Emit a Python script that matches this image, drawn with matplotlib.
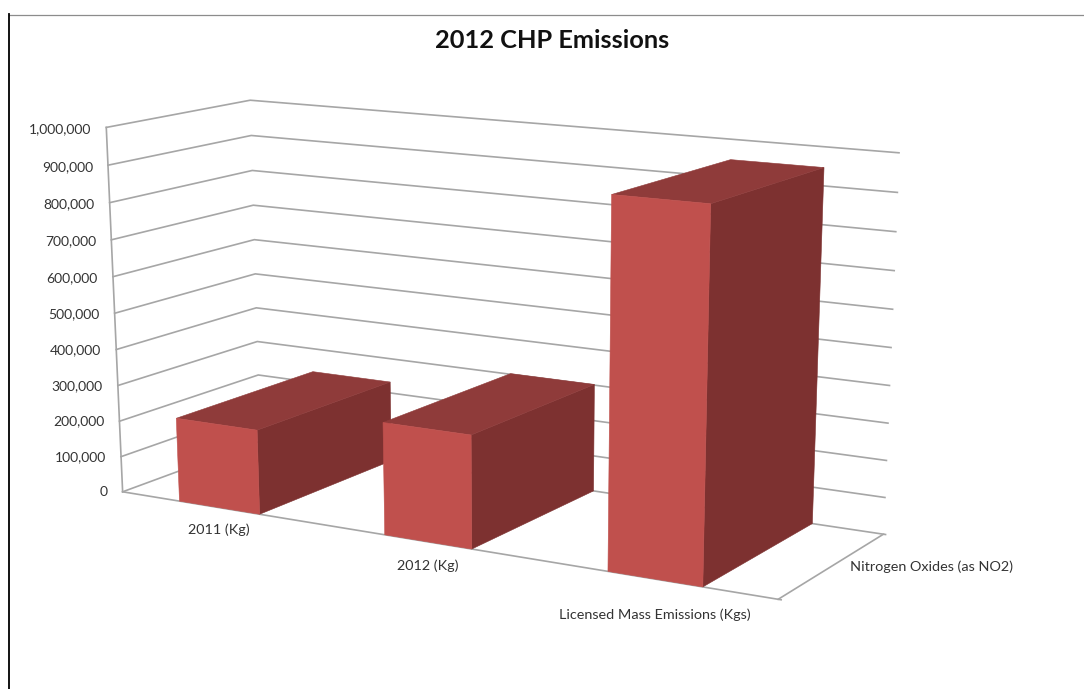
import numpy as np
import matplotlib
matplotlib.use("Agg")
import matplotlib.pyplot as plt

title = "2012 CHP Emissions"
categories = ["2011 (Kg)", "2012 (Kg)", "Licensed Mass Emissions (Kgs)"]
series_name = "Nitrogen Oxides (as NO2)"
values = [232000, 302000, 947000]
y_ticks = [0, 100000, 200000, 300000, 400000, 500000, 600000, 700000, 800000, 900000, 1000000]
y_max = 1000000

# Pixel positions of the corners of the chart's box: (x, depth, height) -> picture
box_corners = [
    ((0, 0, 0), (122.3, 490.0)),
    ((0, 0, 1), (106.5, 128.0)),
    ((0, 1, 0), (260.5, 443.0)),
    ((0, 1, 1), (250.0, 99.5)),
    ((1, 0, 0), (778.3, 600.7)),
    ((1, 1, 0), (883.3, 532.7)),
    ((1, 1, 1), (899.0, 153.0)),
]
label_drop = [22, 24, 35]


def fit_camera(corners):
    rows, rhs = [], []
    for (X, Y, Z), (u, v) in corners:
        rows.append([X, Y, Z, 1, 0, 0, 0, 0, -u * X, -u * Y, -u * Z])
        rhs.append(u)
        rows.append([0, 0, 0, 0, X, Y, Z, 1, -v * X, -v * Y, -v * Z])
        rhs.append(v)
    p = np.linalg.lstsq(np.array(rows, float), np.array(rhs, float), rcond=None)[0]
    return np.append(p, 1.0).reshape(3, 4)


CAM = fit_camera(box_corners)


def project(x, d, value):
    h = CAM @ np.array([x, d, value / y_max, 1.0])
    return h[0] / h[2], h[1] / h[2]


plt.rcParams["font.family"] = ["Lato", "DejaVu Sans"]
fig = plt.figure(figsize=(10.84, 6.89), dpi=100, facecolor="white")
ax = fig.add_axes([0, 0, 1, 1])
ax.set_xlim(0, 1084)
ax.set_ylim(689, 0)
ax.axis("off")

GRID = "#a6a6a6"
FRONT = "#c0504d"
SIDE = "#7d3130"
TOP = "#8f3b3a"
TEXT = "#333333"
lw = 1.2

# picture frame
ax.plot([9, 1084], [14.5, 14.5], color="#8c8c8c", lw=0.9, zorder=1)
ax.plot([9, 9], [14, 689], color="#000000", lw=1.3, zorder=1)

# gridlines on left and back walls
for v in y_ticks:
    pts = [project(0, 0, v), project(0, 1, v), project(1, 1, v)]
    ax.plot(*zip(*pts), color=GRID, lw=lw, zorder=2, solid_joinstyle="miter")
    x0, y0 = pts[0]
    ax.text(x0 - 15, y0 + 4 + 2 * v / y_max, f"{v:,}", ha="right", va="baseline", fontsize=10, color=TEXT, zorder=5)

# floor
floor = [project(0, 0, 0), project(1.004, 0, 0)]
ax.plot(*zip(*floor), color=GRID, lw=lw, zorder=2)
ax.plot(*zip(project(1, 0, 0), project(1, 1, 0), project(1.003, 1, 0)), color=GRID, lw=lw, zorder=2)
ax.plot(*zip(project(0, 0, 0), project(0, 0, y_max)), color=GRID, lw=lw, zorder=2)

n = len(categories)
bar_frac = 0.4
shift = -0.008
for i, val in enumerate(values):
    xa = (i + 0.5 + shift - bar_frac / 2) / n
    xb = (i + 0.5 + shift + bar_frac / 2) / n
    front = [project(xa, 0, 0), project(xb, 0, 0), project(xb, 0, val), project(xa, 0, val)]
    side = [project(xb, 0, 0), project(xb, 1, 0), project(xb, 1, val), project(xb, 0, val)]
    top = [project(xa, 0, val), project(xb, 0, val), project(xb, 1, val), project(xa, 1, val)]
    z = 3 + i * 0.1
    ax.fill(*zip(*side), facecolor=SIDE, edgecolor=SIDE, lw=0.4, zorder=z)
    ax.fill(*zip(*top), facecolor=TOP, edgecolor=TOP, lw=0.4, zorder=z)
    ax.fill(*zip(*front), facecolor=FRONT, edgecolor=FRONT, lw=0.4, zorder=z)

    cx, cy = project((i + 0.5) / n, 0, 0)
    ax.text(cx - 2, cy + label_drop[i], categories[i], ha="center", va="center", fontsize=10.4, color=TEXT, zorder=5)

sx, sy = project(1, 0.5, 0)
ax.text(sx + 17, sy + 1, series_name, ha="left", va="center", fontsize=10.4, color=TEXT, zorder=5)

ax.text(552.5, 40.5, title, ha="center", va="center", fontsize=18.3, fontweight="bold", color="#111111", zorder=5)

fig.savefig("out.png", dpi=100, facecolor="white")
